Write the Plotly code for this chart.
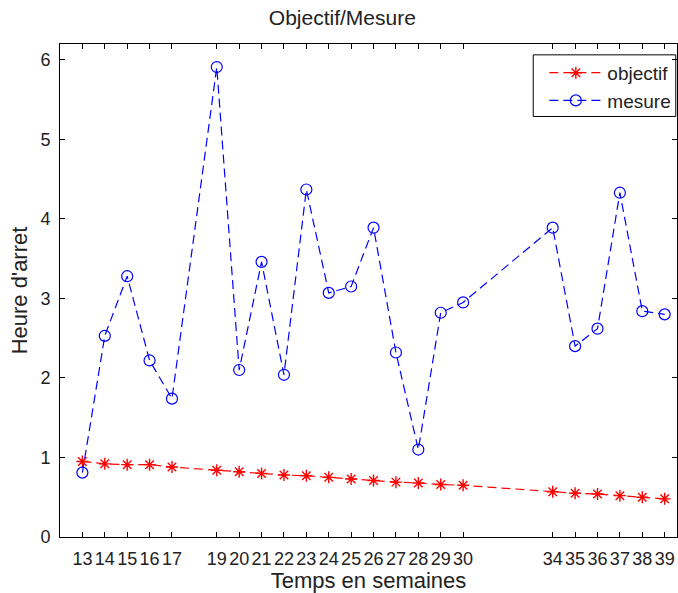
"""
Objectif / Mesure chart (MATLAB-style line plot) rebuilt in Plotly.
"""

import plotly.graph_objects as go

weeks = [13, 14, 15, 16, 17, 19, 20, 21, 22, 23, 24, 25, 26, 27, 28, 29, 30,
         34, 35, 36, 37, 38, 39]
objectif = [0.95, 0.92, 0.91, 0.91, 0.88, 0.84, 0.82, 0.80, 0.78, 0.77, 0.75,
            0.73, 0.71, 0.69, 0.68, 0.66, 0.65, 0.57, 0.55, 0.54, 0.52, 0.50, 0.48]
mesure = [0.81, 2.53, 3.28, 2.22, 1.74, 5.91, 2.10, 3.46, 2.04, 4.37, 3.07,
          3.15, 3.89, 2.32, 1.10, 2.82, 2.95, 3.89, 2.40, 2.62, 4.33, 2.84, 2.80]
y_ticks = [0, 1, 2, 3, 4, 5, 6]

FONT = "Liberation Sans, Arial, sans-serif"
TXT = "#222222"

fig = go.Figure()
fig.add_trace(go.Scatter(
    x=weeks, y=objectif, name="objectif", mode="lines+markers",
    line=dict(color="#ff0000", width=1.2, dash="9px,5px"),
    marker=dict(symbol="asterisk-open", size=10, color="#ff0000",
                line=dict(color="#ff0000", width=1.4)),
))
fig.add_trace(go.Scatter(
    x=weeks, y=mesure, name="mesure", mode="lines+markers",
    line=dict(color="#0000ff", width=1.2, dash="9px,5px"),
    marker=dict(symbol="circle-open", size=11, color="#0000ff",
                line=dict(color="#0000ff", width=1.2)),
))

axis_common = dict(
    showline=True, linecolor="black", linewidth=1, mirror="allticks",
    ticks="inside", ticklen=5, tickcolor="black", showgrid=False,
    zeroline=False, tickangle=0, tickfont=dict(family=FONT, size=18, color=TXT),
)

fig.update_layout(
    width=678, height=593,
    paper_bgcolor="white", plot_bgcolor="white",
    margin=dict(l=60, r=1, t=44, b=56, autoexpand=False),
    title=dict(text="Objectif/Mesure", x=0.505, xanchor="center", y=0.97,
               yanchor="middle", font=dict(family=FONT, size=21, color=TXT)),
    xaxis=dict(**axis_common, range=[12.0, 39.55], tickmode="array",
               tickvals=weeks, ticktext=[str(w) for w in weeks],
               ticklabelstandoff=5, automargin=False,
               title=dict(text="Temps en semaines", standoff=2,
                          font=dict(family=FONT, size=22, color=TXT))),
    yaxis=dict(**axis_common, range=[0, 6.2], tickmode="array",
               tickvals=y_ticks, ticktext=[str(v) for v in y_ticks],
               ticklabelstandoff=5, automargin=False,
               title=dict(text="Heure d'arret", standoff=6,
                          font=dict(family=FONT, size=22, color=TXT))),
    legend=dict(x=0.785, xanchor="left", y=0.98, yanchor="top",
                bgcolor="rgba(0,0,0,0)", borderwidth=0,
                font=dict(family=FONT, size=19, color=TXT),
                tracegroupgap=0, itemwidth=53),
    showlegend=True,
    shapes=[dict(type="rect", xref="paper", yref="paper",
                 x0=0.767, x1=0.998, y0=0.853, y1=0.978,
                 line=dict(color="black", width=1), fillcolor="white",
                 layer="below")],
)

fig.write_html("out.html", config={"displayModeBar": False},
               post_script="document.body.style.margin='0';")
